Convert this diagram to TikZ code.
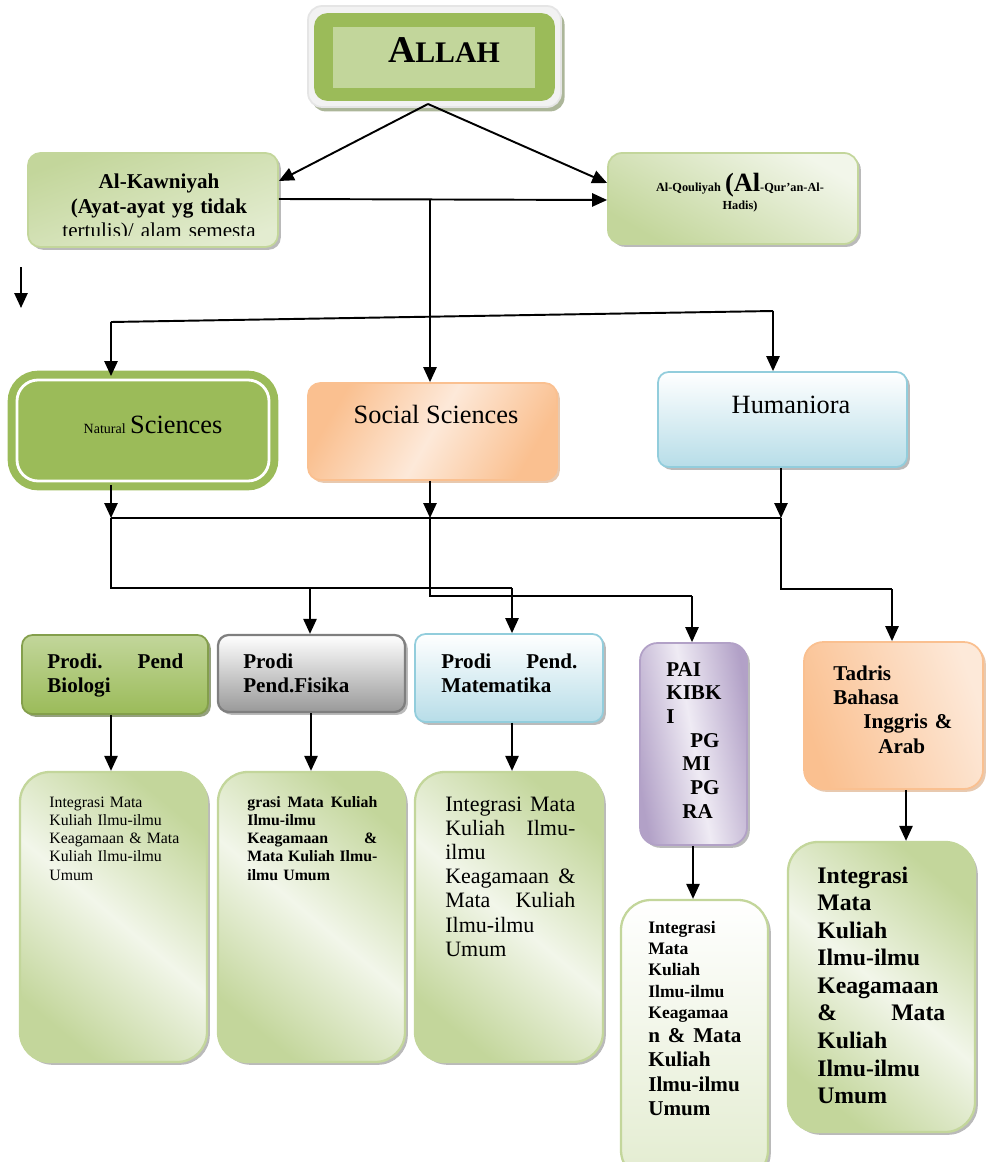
\documentclass[tikz,border=0pt]{standalone}
\usepackage{fontspec}
\setmainfont{Liberation Serif}
\usepackage{xcolor}
\usepackage{tikz}
\usetikzlibrary{arrows.meta,shadows,fit}
\definecolor{allahgreen}{HTML}{9BBB59}
\definecolor{allahpale}{HTML}{C2D69B}
\definecolor{framegray}{HTML}{F2F2F2}
\definecolor{mossgray}{HTML}{A3AE8E}
\definecolor{mossdark}{HTML}{4F6228}
\definecolor{leafline}{HTML}{C3D69B}
\definecolor{leafpale}{HTML}{E3ECD0}
\definecolor{leafwhite}{HTML}{F2F6EA}
\definecolor{peach}{HTML}{FAC090}
\definecolor{peachlight}{HTML}{FDE9D9}
\definecolor{peachdark}{HTML}{D9A57A}
\definecolor{skyblue}{HTML}{B7DDE8}
\definecolor{skyline}{HTML}{92CDDC}
\definecolor{lilac}{HTML}{B2A1C7}
\definecolor{lilaclight}{HTML}{EFEBF4}
\definecolor{steel}{HTML}{7F7F7F}
\tikzset{
  arr/.style={-{Triangle[length=8.5pt,width=7.5pt]}, line width=1.1pt},
  wire/.style={line width=1.1pt},
  boxshadow/.style={drop shadow={shadow xshift=1.6pt, shadow yshift=-1.6pt, fill=#1, opacity=0.6}},
  boxshadow/.default=black!45,
  box/.style={inner sep=0pt, line width=1pt, rounded corners=6pt},
  txt/.style={inner sep=0pt, anchor=base west, align=left},
  framebox/.style={box, rounded corners=8pt, draw=black!10, fill=framegray,
    drop shadow={shadow xshift=2pt, shadow yshift=-2.5pt, fill=mossgray, opacity=0.9}},
  allahbox/.style={box, rounded corners=7pt, draw=allahgreen, fill=allahgreen},
  kawbox/.style={box, rounded corners=7pt, boxshadow, draw=leafline, top color=leafline, bottom color=leafpale, shading angle=20},
  qoulbox/.style={box, rounded corners=8pt, boxshadow, draw=leafline, top color=leafwhite, bottom color=leafline, shading angle=-30},
  natbox/.style={inner sep=0pt, rounded corners=12pt, fill=allahgreen, draw=allahgreen,
    double=white, double distance=1.6pt, line width=4.5pt},
  socbox/.style={box, rounded corners=7pt, boxshadow=peachdark, draw=peach, top color=peach, bottom color=peach, middle color=peachlight, shading angle=60},
  humbox/.style={box, boxshadow, draw=skyline, top color=white, bottom color=skyblue},
  biobox/.style={box, boxshadow=mossdark, draw=allahgreen!85!black, top color=allahpale, bottom color=allahgreen},
  fisbox/.style={box, boxshadow, draw=steel, line width=1.3pt, top color=white, bottom color=black!40},
  paibox/.style={box, rounded corners=10pt, boxshadow, draw=lilac, left color=lilac, right color=lilac, middle color=lilaclight, shading angle=100},
  tadbox/.style={box, rounded corners=11pt, boxshadow=peachdark, draw=peach, left color=peach, right color=peachlight, shading angle=110},
  intbox/.style={box, rounded corners=17pt, boxshadow, draw=leafline, line width=1.3pt, top color=leafline, bottom color=leafline, middle color=leafwhite, shading angle=-40},
  intpale/.style={intbox, top color=white, bottom color=leafpale}
}

\begin{document}
\begin{tikzpicture}[x=0.02cm, y=-0.02cm]
  \useasboundingbox (0,0) rectangle (985,1162);

  % top box
  \node[framebox, fit={(308,6) (561,107)}] (frame) {};
  \node[allahbox, fit={(315,14) (554,100)}] (allah) {};
  \node[inner sep=0pt, fill=allahpale, fit={(333,27) (535,88)}] (allahin) {};
  \node[inner sep=0pt, anchor=base, font=\bfseries] (allahtxt) at (444,63)
    {{\fontsize{21.5}{22}\selectfont A}{\fontsize{17}{18}\selectfont LLAH}};

  % ayat
  \node[kawbox, fit={(28,153) (278,247)}] (kaw) {};
  \begin{scope}
    \clip (28,153) rectangle (278,235);
    \node[txt, anchor=base, text width=5cm, align=center, font=\fontsize{12}{13.9}\selectfont] (kawtxt) at (159,189)
      {\textbf{Al-Kawniyah}\\\textbf{(Ayat-ayat yg tidak}\\tertulis)/ alam semesta};
  \end{scope}
  \node[qoulbox, fit={(608,153) (858,244)}] (qoul) {};
  \node[txt, anchor=base, text width=5cm, align=center, font=\bfseries\fontsize{7}{10.2}\selectfont] (qoultxt) at (740,192)
    {Al-Qouliyah {\fontsize{15}{15}\selectfont(Al}-Qur’an-Al-\\Hadis)};

  % sciences
  \node[natbox, fit={(17,380) (269,481)}] (nat) {};
  \node[inner sep=0pt, anchor=base] (nattxt) at (153,433)
    {{\fontsize{8}{9}\selectfont Natural} {\fontsize{15}{16}\selectfont Sciences}};
  \node[socbox, fit={(308,383) (557,480)}] (soc) {};
  \node[inner sep=0pt, anchor=base, font=\fontsize{15}{16}\selectfont] (soctxt) at (436,423) {Social Sciences};
  \node[humbox, fit={(658,372) (907,467)}] (hum) {};
  \node[inner sep=0pt, anchor=base, font=\fontsize{15}{16}\selectfont] (humtxt) at (791,413) {Humaniora};

  % prodi
  \node[biobox, fit={(22,635) (208,714)}] (bio) {};
  \node[txt, text width=2.72cm, font=\bfseries\fontsize{12}{14.2}\selectfont] (biotxt) at (47,668) {Prodi.\hfill Pend\\Biologi};
  \node[fisbox, fit={(218,635) (405,712)}] (fis) {};
  \node[txt, text width=2.8cm, font=\bfseries\fontsize{12}{14.2}\selectfont] (fistxt) at (243,668) {Prodi\\Pend.Fisika};
  \node[humbox, fit={(415,634) (603,722)}] (mat) {};
  \node[txt, text width=2.72cm, font=\bfseries\fontsize{12}{14.2}\selectfont] (mattxt) at (441,668) {Prodi\hfill Pend.\\Matematika};
  \node[paibox, fit={(640,643) (747,845)}] (pai) {};
  \node[txt, text width=1.6cm, font=\bfseries\fontsize{12}{13.5}\selectfont] (paitxt) at (666,676)
    {PAI\\KIBK\\I\\\hspace*{0.48cm}PG\\\hspace*{0.32cm}MI\\\hspace*{0.48cm}PG\\\hspace*{0.32cm}RA};
  \node[tadbox, fit={(804,642) (983,789)}] (tad) {};
  \node[txt, text width=2.6cm, font=\bfseries\fontsize{12}{13.9}\selectfont] (tadtxt) at (833,680)
    {Tadris\\Bahasa\\\hspace*{0.6cm}Inggris \&\\\hspace*{0.9cm}Arab};

  % integrasi
  \node[intbox, fit={(20,772) (207,1062)}] (int1) {};
  \node[txt, text width=2.7cm, font=\fontsize{9}{10.4}\selectfont] (int1txt) at (49,807)
    {Integrasi Mata\\Kuliah Ilmu-ilmu\\Keagamaan \& Mata\\Kuliah Ilmu-ilmu\\Umum};
  \node[intbox, fit={(218,772) (405,1062)}] (int2) {};
  \node[txt, text width=2.6cm, font=\bfseries\fontsize{9}{10.4}\selectfont] (int2txt) at (247,807)
    {grasi\hfill Mata\hfill Kuliah\\Ilmu-ilmu\\Keagamaan\hfill\&\\Mata\hfill Kuliah\hfill Ilmu-\\ilmu Umum};
  \node[intbox, fit={(415,772) (603,1062)}] (int3) {};
  \node[txt, text width=2.6cm, font=\fontsize{12.5}{13.8}\selectfont] (int3txt) at (445,811)
    {Integrasi\hfill Mata\\Kuliah\hfill Ilmu-\\ilmu\\Keagamaan\hfill\&\\Mata\hfill Kuliah\\Ilmu-ilmu\\Umum};
  \node[intpale, fit={(621,900) (768,1180)}] (int4) {};
  \node[txt, text width=1.86cm, font=\bfseries\fontsize{10}{12.2}\selectfont] (int4top) at (648,933)
    {Integrasi\\Mata\\Kuliah\\Ilmu-ilmu\\Keagamaa};
  \node[txt, text width=1.86cm, font=\bfseries\fontsize{12}{14}\selectfont] (int4bot) at (648,1042)
    {n\hfill\&\hfill Mata\\Kuliah\\Ilmu-ilmu\\Umum};
  \node[intbox, fit={(788,842) (975,1132)}] (int5) {};
  \node[txt, text width=2.56cm, font=\bfseries\fontsize{13.5}{15.7}\selectfont] (int5txt) at (817,883)
    {Integrasi\\Mata\\Kuliah\\Ilmu-ilmu\\Keagamaan\\\&\hfill Mata\\Kuliah\\Ilmu-ilmu\\Umum};

  % connectors
  \coordinate (apex) at (428,104);
  \coordinate (split) at (430,199);
  \coordinate (busl) at (111,322);
  \coordinate (busr) at (773,311);
  \coordinate (strayA) at (21,267);
  \coordinate (strayB) at (21,308);
  \draw[arr] (apex) -- (kaw.east |- 0,181);
  \draw[arr] (apex) -- (qoul.west |- 0,183);
  \draw[arr] (kaw.east |- 0,199) -- (qoul.west |- 0,200);
  \draw[arr] (split) -- (split |- soc.north);
  \draw[wire] (busl) -- (busr);
  \draw[arr] (busl) -- (busl |- nat.north);
  \draw[arr] (busr) -- (busr |- hum.north);
  \draw[arr] (strayA) -- (strayB);

  \coordinate (natdrop) at (111,518);
  \coordinate (socdrop) at (430,518);
  \coordinate (humdrop) at (781,518);
  \coordinate (matfork) at (512,588);
  \coordinate (paifork) at (692,596);
  \coordinate (tadfork) at (892,589);
  \foreach \up/\dn in {nat/natdrop, soc/socdrop, hum/humdrop}
    \draw[arr] (\dn |- \up.south) -- (\dn);
  \draw[wire] (natdrop) -- (humdrop);
  \draw[wire] (natdrop) |- (matfork);
  \draw[arr] (matfork) -- (matfork |- mat.north);
  \draw[arr] (310,588) -- (310,0 |- fis.north);
  \draw[wire] (socdrop) |- (paifork);
  \draw[arr] (paifork) -- (paifork |- pai.north);
  \draw[wire] (humdrop) |- (tadfork);
  \draw[arr] (tadfork) -- (tadfork |- tad.north);

  \foreach \up/\dn/\xx in {bio/int1/111, fis/int2/311, mat/int3/512, pai/int4/693, tad/int5/906}
    \draw[arr] (\xx,0 |- \up.south) -- (\xx,0 |- \dn.north);
\end{tikzpicture}
\end{document}
